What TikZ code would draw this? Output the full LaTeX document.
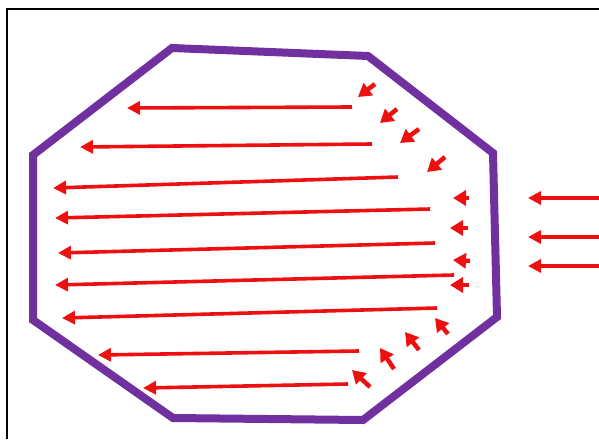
\documentclass[tikz,border=0pt]{standalone}
\usepackage{tikz}
\usetikzlibrary{arrows.meta}
\definecolor{wallpurple}{RGB}{112,48,160}
\definecolor{rayred}{RGB}{236,16,16}
\tikzset{
  frame/.style={black,line width=1.6pt},
  wall/.style={wallpurple,line width=8pt,line join=miter},
  ray/.style={rayred,line width=3.6pt,-{Triangle[length=13pt,width=13pt]}},
  kick/.style={rayred,line width=4.5pt,-{Triangle[length=13pt,width=15pt]}},
}

\begin{document}
\begin{tikzpicture}[x=1pt,y=-1pt]
  \path[use as bounding box] (0,0) rectangle (599,439);
  \draw[frame] (7,439) -- (7,9) -- (599,9);

  % octagonal vessel
  \draw[wall] (172,48) -- (368,56) -- (493,153) -- (497,317)
    -- (363,420) -- (173,418) -- (33,320) -- (33,155) -- cycle;

  % long rays crossing the vessel
  \draw[ray] (352,107) -- (127,108);
  \draw[ray] (372,144) -- (80,147);
  \draw[ray] (398,177) -- (53,188);
  \draw[ray] (430,209) -- (55,218);
  \draw[ray] (435,243) -- (58,253);
  \draw[ray] (454,275) -- (55,285);
  \draw[ray] (437,308) -- (62,318);
  \draw[ray] (359,351) -- (98,355);
  \draw[ray] (348,384) -- (143,388);

  % short arrows along the right wall
  \draw[kick] (375,84) -- (358,97);
  \draw[kick] (397,109) -- (380,123);
  \draw[kick] (419,129) -- (400,143);
  \draw[kick] (445,157) -- (427,172);
  \draw[kick] (469,198) -- (453,198);
  \draw[kick] (468,228) -- (450,228);
  \draw[kick] (470,261) -- (453,260);
  \draw[kick] (469,285) -- (450,285);
  \draw[kick] (448,334) -- (435,318);
  \draw[kick] (419,350) -- (405,332);
  \draw[kick] (394,369) -- (380,348);
  \draw[kick] (370,387) -- (352,370);

  % incoming rays outside
  \draw[ray] (599,198) -- (528,198);
  \draw[ray] (599,237) -- (528,237);
  \draw[ray] (599,266) -- (528,266);
\end{tikzpicture}
\end{document}
